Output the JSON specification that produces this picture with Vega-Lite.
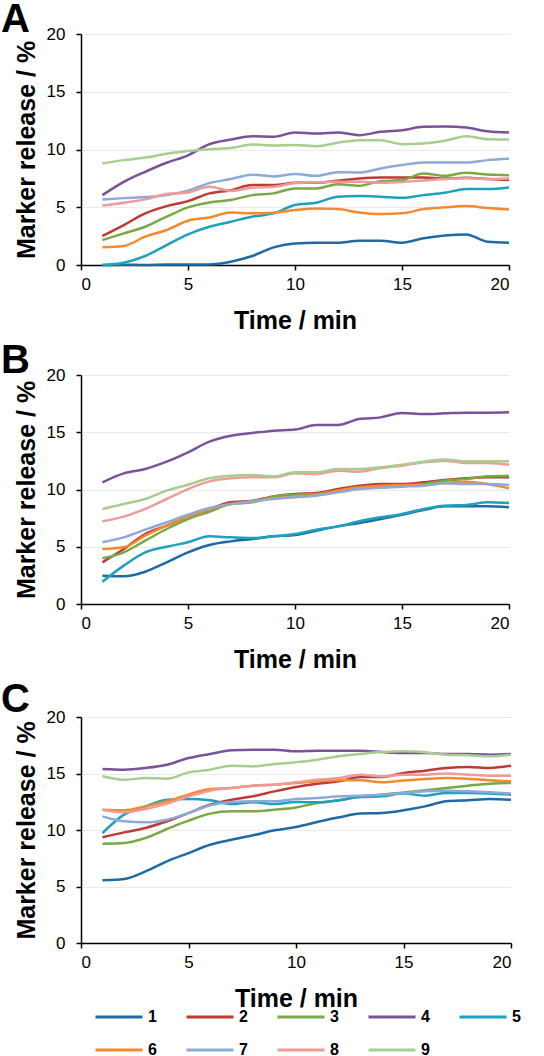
{
"$schema":"https://vega.github.io/schema/vega-lite/v6.json",
"background":"white",
"padding":{"left":1,"top":0,"right":12,"bottom":0},
"spacing":8,
"datasets":{"d":[
{"p":"A","s":"1","t":1,"v":0},{"p":"A","s":"1","t":2,"v":0.03},{"p":"A","s":"1","t":3,"v":0},{"p":"A","s":"1","t":4,"v":0.05},{"p":"A","s":"1","t":5,"v":0.05},{"p":"A","s":"1","t":6,"v":0.05},{"p":"A","s":"1","t":7,"v":0.29},{"p":"A","s":"1","t":8,"v":0.78},{"p":"A","s":"1","t":9,"v":1.53},{"p":"A","s":"1","t":10,"v":1.87},{"p":"A","s":"1","t":11,"v":1.93},{"p":"A","s":"1","t":12,"v":1.93},{"p":"A","s":"1","t":13,"v":2.1},{"p":"A","s":"1","t":14,"v":2.1},{"p":"A","s":"1","t":15,"v":1.93},{"p":"A","s":"1","t":16,"v":2.31},{"p":"A","s":"1","t":17,"v":2.56},{"p":"A","s":"1","t":18,"v":2.65},{"p":"A","s":"1","t":19,"v":2.02},{"p":"A","s":"1","t":20,"v":1.93},
{"p":"A","s":"2","t":1,"v":2.51},{"p":"A","s":"2","t":2,"v":3.46},{"p":"A","s":"2","t":3,"v":4.47},{"p":"A","s":"2","t":4,"v":5.1},{"p":"A","s":"2","t":5,"v":5.53},{"p":"A","s":"2","t":6,"v":6.2},{"p":"A","s":"2","t":7,"v":6.48},{"p":"A","s":"2","t":8,"v":6.92},{"p":"A","s":"2","t":9,"v":6.92},{"p":"A","s":"2","t":10,"v":7.12},{"p":"A","s":"2","t":11,"v":7.12},{"p":"A","s":"2","t":12,"v":7.29},{"p":"A","s":"2","t":13,"v":7.49},{"p":"A","s":"2","t":14,"v":7.58},{"p":"A","s":"2","t":15,"v":7.58},{"p":"A","s":"2","t":16,"v":7.58},{"p":"A","s":"2","t":17,"v":7.49},{"p":"A","s":"2","t":18,"v":7.55},{"p":"A","s":"2","t":19,"v":7.44},{"p":"A","s":"2","t":20,"v":7.35},
{"p":"A","s":"3","t":1,"v":2.16},{"p":"A","s":"3","t":2,"v":2.74},{"p":"A","s":"3","t":3,"v":3.31},{"p":"A","s":"3","t":4,"v":4.18},{"p":"A","s":"3","t":5,"v":4.99},{"p":"A","s":"3","t":6,"v":5.42},{"p":"A","s":"3","t":7,"v":5.62},{"p":"A","s":"3","t":8,"v":6.05},{"p":"A","s":"3","t":9,"v":6.2},{"p":"A","s":"3","t":10,"v":6.63},{"p":"A","s":"3","t":11,"v":6.63},{"p":"A","s":"3","t":12,"v":7.0},{"p":"A","s":"3","t":13,"v":6.86},{"p":"A","s":"3","t":14,"v":7.26},{"p":"A","s":"3","t":15,"v":7.35},{"p":"A","s":"3","t":16,"v":7.93},{"p":"A","s":"3","t":17,"v":7.72},{"p":"A","s":"3","t":18,"v":7.98},{"p":"A","s":"3","t":19,"v":7.84},{"p":"A","s":"3","t":20,"v":7.78},
{"p":"A","s":"4","t":1,"v":6.05},{"p":"A","s":"4","t":2,"v":7.2},{"p":"A","s":"4","t":3,"v":8.07},{"p":"A","s":"4","t":4,"v":8.85},{"p":"A","s":"4","t":5,"v":9.5},{"p":"A","s":"4","t":6,"v":10.46},{"p":"A","s":"4","t":7,"v":10.86},{"p":"A","s":"4","t":8,"v":11.15},{"p":"A","s":"4","t":9,"v":11.1},{"p":"A","s":"4","t":10,"v":11.47},{"p":"A","s":"4","t":11,"v":11.38},{"p":"A","s":"4","t":12,"v":11.47},{"p":"A","s":"4","t":13,"v":11.24},{"p":"A","s":"4","t":14,"v":11.53},{"p":"A","s":"4","t":15,"v":11.67},{"p":"A","s":"4","t":16,"v":11.96},{"p":"A","s":"4","t":17,"v":11.99},{"p":"A","s":"4","t":18,"v":11.9},{"p":"A","s":"4","t":19,"v":11.58},{"p":"A","s":"4","t":20,"v":11.47},
{"p":"A","s":"5","t":1,"v":0},{"p":"A","s":"5","t":2,"v":0.2},{"p":"A","s":"5","t":3,"v":0.78},{"p":"A","s":"5","t":4,"v":1.73},{"p":"A","s":"5","t":5,"v":2.65},{"p":"A","s":"5","t":6,"v":3.31},{"p":"A","s":"5","t":7,"v":3.75},{"p":"A","s":"5","t":8,"v":4.18},{"p":"A","s":"5","t":9,"v":4.47},{"p":"A","s":"5","t":10,"v":5.19},{"p":"A","s":"5","t":11,"v":5.39},{"p":"A","s":"5","t":12,"v":5.91},{"p":"A","s":"5","t":13,"v":5.97},{"p":"A","s":"5","t":14,"v":5.91},{"p":"A","s":"5","t":15,"v":5.82},{"p":"A","s":"5","t":16,"v":6.05},{"p":"A","s":"5","t":17,"v":6.25},{"p":"A","s":"5","t":18,"v":6.57},{"p":"A","s":"5","t":19,"v":6.57},{"p":"A","s":"5","t":20,"v":6.71},
{"p":"A","s":"6","t":1,"v":1.53},{"p":"A","s":"6","t":2,"v":1.64},{"p":"A","s":"6","t":3,"v":2.45},{"p":"A","s":"6","t":4,"v":3.03},{"p":"A","s":"6","t":5,"v":3.83},{"p":"A","s":"6","t":6,"v":4.12},{"p":"A","s":"6","t":7,"v":4.55},{"p":"A","s":"6","t":8,"v":4.47},{"p":"A","s":"6","t":9,"v":4.52},{"p":"A","s":"6","t":10,"v":4.76},{"p":"A","s":"6","t":11,"v":4.9},{"p":"A","s":"6","t":12,"v":4.84},{"p":"A","s":"6","t":13,"v":4.55},{"p":"A","s":"6","t":14,"v":4.41},{"p":"A","s":"6","t":15,"v":4.47},{"p":"A","s":"6","t":16,"v":4.84},{"p":"A","s":"6","t":17,"v":4.99},{"p":"A","s":"6","t":18,"v":5.1},{"p":"A","s":"6","t":19,"v":4.93},{"p":"A","s":"6","t":20,"v":4.81},
{"p":"A","s":"7","t":1,"v":5.68},{"p":"A","s":"7","t":2,"v":5.79},{"p":"A","s":"7","t":3,"v":5.88},{"p":"A","s":"7","t":4,"v":6.05},{"p":"A","s":"7","t":5,"v":6.43},{"p":"A","s":"7","t":6,"v":7.09},{"p":"A","s":"7","t":7,"v":7.44},{"p":"A","s":"7","t":8,"v":7.81},{"p":"A","s":"7","t":9,"v":7.67},{"p":"A","s":"7","t":10,"v":7.87},{"p":"A","s":"7","t":11,"v":7.72},{"p":"A","s":"7","t":12,"v":8.04},{"p":"A","s":"7","t":13,"v":8.01},{"p":"A","s":"7","t":14,"v":8.36},{"p":"A","s":"7","t":15,"v":8.65},{"p":"A","s":"7","t":16,"v":8.88},{"p":"A","s":"7","t":17,"v":8.88},{"p":"A","s":"7","t":18,"v":8.88},{"p":"A","s":"7","t":19,"v":9.08},{"p":"A","s":"7","t":20,"v":9.19},
{"p":"A","s":"8","t":1,"v":5.13},{"p":"A","s":"8","t":2,"v":5.39},{"p":"A","s":"8","t":3,"v":5.68},{"p":"A","s":"8","t":4,"v":6.14},{"p":"A","s":"8","t":5,"v":6.28},{"p":"A","s":"8","t":6,"v":6.77},{"p":"A","s":"8","t":7,"v":6.43},{"p":"A","s":"8","t":8,"v":6.69},{"p":"A","s":"8","t":9,"v":6.77},{"p":"A","s":"8","t":10,"v":7.09},{"p":"A","s":"8","t":11,"v":7.15},{"p":"A","s":"8","t":12,"v":7.2},{"p":"A","s":"8","t":13,"v":7.2},{"p":"A","s":"8","t":14,"v":7.12},{"p":"A","s":"8","t":15,"v":7.18},{"p":"A","s":"8","t":16,"v":7.32},{"p":"A","s":"8","t":17,"v":7.44},{"p":"A","s":"8","t":18,"v":7.52},{"p":"A","s":"8","t":19,"v":7.44},{"p":"A","s":"8","t":20,"v":7.49},
{"p":"A","s":"9","t":1,"v":8.79},{"p":"A","s":"9","t":2,"v":9.08},{"p":"A","s":"9","t":3,"v":9.3},{"p":"A","s":"9","t":4,"v":9.63},{"p":"A","s":"9","t":5,"v":9.86},{"p":"A","s":"9","t":6,"v":10.03},{"p":"A","s":"9","t":7,"v":10.12},{"p":"A","s":"9","t":8,"v":10.43},{"p":"A","s":"9","t":9,"v":10.35},{"p":"A","s":"9","t":10,"v":10.4},{"p":"A","s":"9","t":11,"v":10.29},{"p":"A","s":"9","t":12,"v":10.58},{"p":"A","s":"9","t":13,"v":10.81},{"p":"A","s":"9","t":14,"v":10.81},{"p":"A","s":"9","t":15,"v":10.46},{"p":"A","s":"9","t":16,"v":10.52},{"p":"A","s":"9","t":17,"v":10.75},{"p":"A","s":"9","t":18,"v":11.15},{"p":"A","s":"9","t":19,"v":10.89},{"p":"A","s":"9","t":20,"v":10.86},
{"p":"B","s":"1","t":1,"v":2.47},{"p":"B","s":"1","t":2,"v":2.42},{"p":"B","s":"1","t":3,"v":2.82},{"p":"B","s":"1","t":4,"v":3.64},{"p":"B","s":"1","t":5,"v":4.51},{"p":"B","s":"1","t":6,"v":5.15},{"p":"B","s":"1","t":7,"v":5.47},{"p":"B","s":"1","t":8,"v":5.68},{"p":"B","s":"1","t":9,"v":5.91},{"p":"B","s":"1","t":10,"v":6.03},{"p":"B","s":"1","t":11,"v":6.4},{"p":"B","s":"1","t":12,"v":6.78},{"p":"B","s":"1","t":13,"v":7.07},{"p":"B","s":"1","t":14,"v":7.42},{"p":"B","s":"1","t":15,"v":7.8},{"p":"B","s":"1","t":16,"v":8.21},{"p":"B","s":"1","t":17,"v":8.53},{"p":"B","s":"1","t":18,"v":8.53},{"p":"B","s":"1","t":19,"v":8.53},{"p":"B","s":"1","t":20,"v":8.44},
{"p":"B","s":"2","t":1,"v":3.64},{"p":"B","s":"2","t":2,"v":4.8},{"p":"B","s":"2","t":3,"v":6.11},{"p":"B","s":"2","t":4,"v":6.84},{"p":"B","s":"2","t":5,"v":7.63},{"p":"B","s":"2","t":6,"v":8.3},{"p":"B","s":"2","t":7,"v":8.88},{"p":"B","s":"2","t":8,"v":9.02},{"p":"B","s":"2","t":9,"v":9.4},{"p":"B","s":"2","t":10,"v":9.61},{"p":"B","s":"2","t":11,"v":9.69},{"p":"B","s":"2","t":12,"v":10.04},{"p":"B","s":"2","t":13,"v":10.33},{"p":"B","s":"2","t":14,"v":10.48},{"p":"B","s":"2","t":15,"v":10.48},{"p":"B","s":"2","t":16,"v":10.63},{"p":"B","s":"2","t":17,"v":10.83},{"p":"B","s":"2","t":18,"v":10.98},{"p":"B","s":"2","t":19,"v":11.06},{"p":"B","s":"2","t":20,"v":11.06},
{"p":"B","s":"3","t":1,"v":3.99},{"p":"B","s":"3","t":2,"v":4.51},{"p":"B","s":"3","t":3,"v":5.53},{"p":"B","s":"3","t":4,"v":6.55},{"p":"B","s":"3","t":5,"v":7.42},{"p":"B","s":"3","t":6,"v":8.06},{"p":"B","s":"3","t":7,"v":8.73},{"p":"B","s":"3","t":8,"v":8.88},{"p":"B","s":"3","t":9,"v":9.37},{"p":"B","s":"3","t":10,"v":9.55},{"p":"B","s":"3","t":11,"v":9.61},{"p":"B","s":"3","t":12,"v":9.9},{"p":"B","s":"3","t":13,"v":10.1},{"p":"B","s":"3","t":14,"v":10.19},{"p":"B","s":"3","t":15,"v":10.33},{"p":"B","s":"3","t":16,"v":10.48},{"p":"B","s":"3","t":17,"v":10.77},{"p":"B","s":"3","t":18,"v":10.92},{"p":"B","s":"3","t":19,"v":11.15},{"p":"B","s":"3","t":20,"v":11.21},
{"p":"B","s":"4","t":1,"v":10.63},{"p":"B","s":"4","t":2,"v":11.41},{"p":"B","s":"4","t":3,"v":11.79},{"p":"B","s":"4","t":4,"v":12.43},{"p":"B","s":"4","t":5,"v":13.25},{"p":"B","s":"4","t":6,"v":14.18},{"p":"B","s":"4","t":7,"v":14.7},{"p":"B","s":"4","t":8,"v":14.93},{"p":"B","s":"4","t":9,"v":15.14},{"p":"B","s":"4","t":10,"v":15.23},{"p":"B","s":"4","t":11,"v":15.63},{"p":"B","s":"4","t":12,"v":15.63},{"p":"B","s":"4","t":13,"v":16.16},{"p":"B","s":"4","t":14,"v":16.3},{"p":"B","s":"4","t":15,"v":16.68},{"p":"B","s":"4","t":16,"v":16.59},{"p":"B","s":"4","t":17,"v":16.65},{"p":"B","s":"4","t":18,"v":16.71},{"p":"B","s":"4","t":19,"v":16.71},{"p":"B","s":"4","t":20,"v":16.74},
{"p":"B","s":"5","t":1,"v":1.95},{"p":"B","s":"5","t":2,"v":3.35},{"p":"B","s":"5","t":3,"v":4.51},{"p":"B","s":"5","t":4,"v":5.0},{"p":"B","s":"5","t":5,"v":5.39},{"p":"B","s":"5","t":6,"v":5.91},{"p":"B","s":"5","t":7,"v":5.82},{"p":"B","s":"5","t":8,"v":5.76},{"p":"B","s":"5","t":9,"v":5.91},{"p":"B","s":"5","t":10,"v":6.11},{"p":"B","s":"5","t":11,"v":6.49},{"p":"B","s":"5","t":12,"v":6.78},{"p":"B","s":"5","t":13,"v":7.22},{"p":"B","s":"5","t":14,"v":7.57},{"p":"B","s":"5","t":15,"v":7.86},{"p":"B","s":"5","t":16,"v":8.3},{"p":"B","s":"5","t":17,"v":8.59},{"p":"B","s":"5","t":18,"v":8.65},{"p":"B","s":"5","t":19,"v":8.88},{"p":"B","s":"5","t":20,"v":8.82},
{"p":"B","s":"6","t":1,"v":4.8},{"p":"B","s":"6","t":2,"v":4.95},{"p":"B","s":"6","t":3,"v":5.97},{"p":"B","s":"6","t":4,"v":6.84},{"p":"B","s":"6","t":5,"v":7.63},{"p":"B","s":"6","t":6,"v":8.3},{"p":"B","s":"6","t":7,"v":8.73},{"p":"B","s":"6","t":8,"v":8.97},{"p":"B","s":"6","t":9,"v":9.23},{"p":"B","s":"6","t":10,"v":9.32},{"p":"B","s":"6","t":11,"v":9.52},{"p":"B","s":"6","t":12,"v":9.9},{"p":"B","s":"6","t":13,"v":10.19},{"p":"B","s":"6","t":14,"v":10.33},{"p":"B","s":"6","t":15,"v":10.39},{"p":"B","s":"6","t":16,"v":10.39},{"p":"B","s":"6","t":17,"v":10.57},{"p":"B","s":"6","t":18,"v":10.68},{"p":"B","s":"6","t":19,"v":10.48},{"p":"B","s":"6","t":20,"v":10.1},
{"p":"B","s":"7","t":1,"v":5.39},{"p":"B","s":"7","t":2,"v":5.82},{"p":"B","s":"7","t":3,"v":6.49},{"p":"B","s":"7","t":4,"v":7.13},{"p":"B","s":"7","t":5,"v":7.8},{"p":"B","s":"7","t":6,"v":8.38},{"p":"B","s":"7","t":7,"v":8.73},{"p":"B","s":"7","t":8,"v":8.97},{"p":"B","s":"7","t":9,"v":9.17},{"p":"B","s":"7","t":10,"v":9.37},{"p":"B","s":"7","t":11,"v":9.46},{"p":"B","s":"7","t":12,"v":9.75},{"p":"B","s":"7","t":13,"v":10.04},{"p":"B","s":"7","t":14,"v":10.16},{"p":"B","s":"7","t":15,"v":10.25},{"p":"B","s":"7","t":16,"v":10.33},{"p":"B","s":"7","t":17,"v":10.54},{"p":"B","s":"7","t":18,"v":10.48},{"p":"B","s":"7","t":19,"v":10.48},{"p":"B","s":"7","t":20,"v":10.39},
{"p":"B","s":"8","t":1,"v":7.22},{"p":"B","s":"8","t":2,"v":7.63},{"p":"B","s":"8","t":3,"v":8.3},{"p":"B","s":"8","t":4,"v":9.17},{"p":"B","s":"8","t":5,"v":10.04},{"p":"B","s":"8","t":6,"v":10.71},{"p":"B","s":"8","t":7,"v":10.98},{"p":"B","s":"8","t":8,"v":11.06},{"p":"B","s":"8","t":9,"v":11.06},{"p":"B","s":"8","t":10,"v":11.41},{"p":"B","s":"8","t":11,"v":11.35},{"p":"B","s":"8","t":12,"v":11.64},{"p":"B","s":"8","t":13,"v":11.56},{"p":"B","s":"8","t":14,"v":11.88},{"p":"B","s":"8","t":15,"v":12.08},{"p":"B","s":"8","t":16,"v":12.37},{"p":"B","s":"8","t":17,"v":12.52},{"p":"B","s":"8","t":18,"v":12.31},{"p":"B","s":"8","t":19,"v":12.31},{"p":"B","s":"8","t":20,"v":12.17},
{"p":"B","s":"9","t":1,"v":8.3},{"p":"B","s":"9","t":2,"v":8.73},{"p":"B","s":"9","t":3,"v":9.17},{"p":"B","s":"9","t":4,"v":9.9},{"p":"B","s":"9","t":5,"v":10.42},{"p":"B","s":"9","t":6,"v":10.98},{"p":"B","s":"9","t":7,"v":11.21},{"p":"B","s":"9","t":8,"v":11.27},{"p":"B","s":"9","t":9,"v":11.15},{"p":"B","s":"9","t":10,"v":11.5},{"p":"B","s":"9","t":11,"v":11.5},{"p":"B","s":"9","t":12,"v":11.79},{"p":"B","s":"9","t":13,"v":11.79},{"p":"B","s":"9","t":14,"v":11.94},{"p":"B","s":"9","t":15,"v":12.17},{"p":"B","s":"9","t":16,"v":12.43},{"p":"B","s":"9","t":17,"v":12.61},{"p":"B","s":"9","t":18,"v":12.46},{"p":"B","s":"9","t":19,"v":12.46},{"p":"B","s":"9","t":20,"v":12.46},
{"p":"C","s":"1","t":1,"v":5.55},{"p":"C","s":"1","t":2,"v":5.66},{"p":"C","s":"1","t":3,"v":6.34},{"p":"C","s":"1","t":4,"v":7.23},{"p":"C","s":"1","t":5,"v":7.96},{"p":"C","s":"1","t":6,"v":8.7},{"p":"C","s":"1","t":7,"v":9.14},{"p":"C","s":"1","t":8,"v":9.53},{"p":"C","s":"1","t":9,"v":9.97},{"p":"C","s":"1","t":10,"v":10.27},{"p":"C","s":"1","t":11,"v":10.71},{"p":"C","s":"1","t":12,"v":11.12},{"p":"C","s":"1","t":13,"v":11.45},{"p":"C","s":"1","t":14,"v":11.5},{"p":"C","s":"1","t":15,"v":11.74},{"p":"C","s":"1","t":16,"v":12.09},{"p":"C","s":"1","t":17,"v":12.54},{"p":"C","s":"1","t":18,"v":12.63},{"p":"C","s":"1","t":19,"v":12.74},{"p":"C","s":"1","t":20,"v":12.68},
{"p":"C","s":"2","t":1,"v":9.35},{"p":"C","s":"2","t":2,"v":9.79},{"p":"C","s":"2","t":3,"v":10.18},{"p":"C","s":"2","t":4,"v":10.77},{"p":"C","s":"2","t":5,"v":11.5},{"p":"C","s":"2","t":6,"v":12.24},{"p":"C","s":"2","t":7,"v":12.68},{"p":"C","s":"2","t":8,"v":12.98},{"p":"C","s":"2","t":9,"v":13.42},{"p":"C","s":"2","t":10,"v":13.81},{"p":"C","s":"2","t":11,"v":14.1},{"p":"C","s":"2","t":12,"v":14.31},{"p":"C","s":"2","t":13,"v":14.69},{"p":"C","s":"2","t":14,"v":14.69},{"p":"C","s":"2","t":15,"v":15.04},{"p":"C","s":"2","t":16,"v":15.25},{"p":"C","s":"2","t":17,"v":15.49},{"p":"C","s":"2","t":18,"v":15.58},{"p":"C","s":"2","t":19,"v":15.49},{"p":"C","s":"2","t":20,"v":15.69},
{"p":"C","s":"3","t":1,"v":8.79},{"p":"C","s":"3","t":2,"v":8.85},{"p":"C","s":"3","t":3,"v":9.29},{"p":"C","s":"3","t":4,"v":10.09},{"p":"C","s":"3","t":5,"v":10.83},{"p":"C","s":"3","t":6,"v":11.45},{"p":"C","s":"3","t":7,"v":11.65},{"p":"C","s":"3","t":8,"v":11.65},{"p":"C","s":"3","t":9,"v":11.8},{"p":"C","s":"3","t":10,"v":12.0},{"p":"C","s":"3","t":11,"v":12.39},{"p":"C","s":"3","t":12,"v":12.63},{"p":"C","s":"3","t":13,"v":12.98},{"p":"C","s":"3","t":14,"v":13.13},{"p":"C","s":"3","t":15,"v":13.33},{"p":"C","s":"3","t":16,"v":13.51},{"p":"C","s":"3","t":17,"v":13.72},{"p":"C","s":"3","t":18,"v":13.92},{"p":"C","s":"3","t":19,"v":14.1},{"p":"C","s":"3","t":20,"v":14.16},
{"p":"C","s":"4","t":1,"v":15.4},{"p":"C","s":"4","t":2,"v":15.34},{"p":"C","s":"4","t":3,"v":15.49},{"p":"C","s":"4","t":4,"v":15.78},{"p":"C","s":"4","t":5,"v":16.37},{"p":"C","s":"4","t":6,"v":16.73},{"p":"C","s":"4","t":7,"v":17.05},{"p":"C","s":"4","t":8,"v":17.11},{"p":"C","s":"4","t":9,"v":17.11},{"p":"C","s":"4","t":10,"v":16.96},{"p":"C","s":"4","t":11,"v":17.02},{"p":"C","s":"4","t":12,"v":17.02},{"p":"C","s":"4","t":13,"v":17.02},{"p":"C","s":"4","t":14,"v":16.9},{"p":"C","s":"4","t":15,"v":16.81},{"p":"C","s":"4","t":16,"v":16.81},{"p":"C","s":"4","t":17,"v":16.73},{"p":"C","s":"4","t":18,"v":16.73},{"p":"C","s":"4","t":19,"v":16.67},{"p":"C","s":"4","t":20,"v":16.73},
{"p":"C","s":"5","t":1,"v":9.73},{"p":"C","s":"5","t":2,"v":11.36},{"p":"C","s":"5","t":3,"v":12.09},{"p":"C","s":"5","t":4,"v":12.68},{"p":"C","s":"5","t":5,"v":12.74},{"p":"C","s":"5","t":6,"v":12.63},{"p":"C","s":"5","t":7,"v":12.3},{"p":"C","s":"5","t":8,"v":12.45},{"p":"C","s":"5","t":9,"v":12.3},{"p":"C","s":"5","t":10,"v":12.48},{"p":"C","s":"5","t":11,"v":12.45},{"p":"C","s":"5","t":12,"v":12.63},{"p":"C","s":"5","t":13,"v":12.92},{"p":"C","s":"5","t":14,"v":12.98},{"p":"C","s":"5","t":15,"v":13.22},{"p":"C","s":"5","t":16,"v":13.04},{"p":"C","s":"5","t":17,"v":13.27},{"p":"C","s":"5","t":18,"v":13.27},{"p":"C","s":"5","t":19,"v":13.22},{"p":"C","s":"5","t":20,"v":13.13},
{"p":"C","s":"6","t":1,"v":11.8},{"p":"C","s":"6","t":2,"v":11.74},{"p":"C","s":"6","t":3,"v":12.09},{"p":"C","s":"6","t":4,"v":12.54},{"p":"C","s":"6","t":5,"v":13.13},{"p":"C","s":"6","t":6,"v":13.63},{"p":"C","s":"6","t":7,"v":13.72},{"p":"C","s":"6","t":8,"v":13.92},{"p":"C","s":"6","t":9,"v":14.01},{"p":"C","s":"6","t":10,"v":14.16},{"p":"C","s":"6","t":11,"v":14.31},{"p":"C","s":"6","t":12,"v":14.4},{"p":"C","s":"6","t":13,"v":14.4},{"p":"C","s":"6","t":14,"v":14.22},{"p":"C","s":"6","t":15,"v":14.37},{"p":"C","s":"6","t":16,"v":14.51},{"p":"C","s":"6","t":17,"v":14.6},{"p":"C","s":"6","t":18,"v":14.54},{"p":"C","s":"6","t":19,"v":14.4},{"p":"C","s":"6","t":20,"v":14.31},
{"p":"C","s":"7","t":1,"v":11.21},{"p":"C","s":"7","t":2,"v":10.77},{"p":"C","s":"7","t":3,"v":10.68},{"p":"C","s":"7","t":4,"v":10.91},{"p":"C","s":"7","t":5,"v":11.5},{"p":"C","s":"7","t":6,"v":12.18},{"p":"C","s":"7","t":7,"v":12.48},{"p":"C","s":"7","t":8,"v":12.54},{"p":"C","s":"7","t":9,"v":12.54},{"p":"C","s":"7","t":10,"v":12.74},{"p":"C","s":"7","t":11,"v":12.83},{"p":"C","s":"7","t":12,"v":12.98},{"p":"C","s":"7","t":13,"v":13.04},{"p":"C","s":"7","t":14,"v":13.13},{"p":"C","s":"7","t":15,"v":13.27},{"p":"C","s":"7","t":16,"v":13.42},{"p":"C","s":"7","t":17,"v":13.48},{"p":"C","s":"7","t":18,"v":13.42},{"p":"C","s":"7","t":19,"v":13.33},{"p":"C","s":"7","t":20,"v":13.22},
{"p":"C","s":"8","t":1,"v":11.8},{"p":"C","s":"8","t":2,"v":11.56},{"p":"C","s":"8","t":3,"v":11.86},{"p":"C","s":"8","t":4,"v":12.33},{"p":"C","s":"8","t":5,"v":12.98},{"p":"C","s":"8","t":6,"v":13.48},{"p":"C","s":"8","t":7,"v":13.72},{"p":"C","s":"8","t":8,"v":13.92},{"p":"C","s":"8","t":9,"v":14.01},{"p":"C","s":"8","t":10,"v":14.22},{"p":"C","s":"8","t":11,"v":14.45},{"p":"C","s":"8","t":12,"v":14.6},{"p":"C","s":"8","t":13,"v":14.9},{"p":"C","s":"8","t":14,"v":14.75},{"p":"C","s":"8","t":15,"v":14.9},{"p":"C","s":"8","t":16,"v":14.9},{"p":"C","s":"8","t":17,"v":14.99},{"p":"C","s":"8","t":18,"v":14.9},{"p":"C","s":"8","t":19,"v":14.81},{"p":"C","s":"8","t":20,"v":14.81},
{"p":"C","s":"9","t":1,"v":14.75},{"p":"C","s":"9","t":2,"v":14.45},{"p":"C","s":"9","t":3,"v":14.6},{"p":"C","s":"9","t":4,"v":14.54},{"p":"C","s":"9","t":5,"v":15.1},{"p":"C","s":"9","t":6,"v":15.34},{"p":"C","s":"9","t":7,"v":15.69},{"p":"C","s":"9","t":8,"v":15.63},{"p":"C","s":"9","t":9,"v":15.84},{"p":"C","s":"9","t":10,"v":15.99},{"p":"C","s":"9","t":11,"v":16.22},{"p":"C","s":"9","t":12,"v":16.52},{"p":"C","s":"9","t":13,"v":16.73},{"p":"C","s":"9","t":14,"v":16.9},{"p":"C","s":"9","t":15,"v":16.96},{"p":"C","s":"9","t":16,"v":16.87},{"p":"C","s":"9","t":17,"v":16.67},{"p":"C","s":"9","t":18,"v":16.61},{"p":"C","s":"9","t":19,"v":16.52},{"p":"C","s":"9","t":20,"v":16.67}
]},
"data":{"name":"d"},
"config":{
 "view":{"stroke":null},
 "font":"Liberation Sans",
 "title":{"fontSize":40,"font":"Liberation Sans","fontWeight":"bold","anchor":"start","frame":"bounds","offset":-15,"dx":-13,"color":"black"},
 "axis":{"labelFont":"Liberation Sans","labelFontSize":17,"labelColor":"black","titleFont":"Liberation Sans","titleFontSize":25,"titleFontWeight":"bold","titleColor":"black","domainColor":"black","domainWidth":1.5,"tickColor":"black","tickWidth":1.5,"tickSize":5},
 "axisX":{"grid":false,"titlePadding":16,"labelPadding":6},
 "axisY":{"grid":true,"gridColor":"#ebebeb","gridWidth":1.2,"titlePadding":7,"labelPadding":11},
 "legend":{"labelFont":"Liberation Sans","labelFontSize":16,"labelFontWeight":"bold","labelColor":"black"}
},
"resolve":{"scale":{"color":"shared"}},
"vconcat":[
 {"title":{"text":"A"},"width":428,"height":231,
  "transform":[{"filter":"datum.p == 'A'"}],
  "mark":{"type":"line","interpolate":"monotone","strokeWidth":2.5},
  "encoding":{
   "x":{"field":"t","type":"quantitative","scale":{"domain":[0,20]},"axis":{"values":[0,5,10,15,20],"title":"Time / min"}},
   "y":{"field":"v","type":"quantitative","scale":{"domain":[0,20]},"axis":{"values":[0,5,10,15,20],"title":"Marker release / %"}},
   "color":{"field":"s","type":"nominal","scale":{"domain":["1","2","3","4","5","6","7","8","9"],"range":["#1F6AA5","#BE3A34","#78A942","#7A529A","#1DA2BE","#F28A30","#8DA9D9","#EE9A98","#A8CD8E"]},
     "legend":{"orient":"none","legendX":13,"legendY":958,"direction":"horizontal","columns":5,"title":null,"symbolType":"stroke","symbolSize":2209,"symbolStrokeWidth":3,"columnPadding":23,"rowPadding":0,"labelOffset":4}}
  }},
 {"title":{"text":"B"},"width":428,"height":229,
  "transform":[{"filter":"datum.p == 'B'"}],
  "mark":{"type":"line","interpolate":"monotone","strokeWidth":2.5},
  "encoding":{
   "x":{"field":"t","type":"quantitative","scale":{"domain":[0,20]},"axis":{"values":[0,5,10,15,20],"title":"Time / min"}},
   "y":{"field":"v","type":"quantitative","scale":{"domain":[0,20]},"axis":{"values":[0,5,10,15,20],"title":"Marker release / %"}},
   "color":{"field":"s","type":"nominal"}
  }},
 {"title":{"text":"C","offset":-12},"width":430,"height":226,
  "transform":[{"filter":"datum.p == 'C'"}],
  "mark":{"type":"line","interpolate":"monotone","strokeWidth":2.5},
  "encoding":{
   "x":{"field":"t","type":"quantitative","scale":{"domain":[0,20]},"axis":{"values":[0,5,10,15,20],"title":"Time / min"}},
   "y":{"field":"v","type":"quantitative","scale":{"domain":[0,20]},"axis":{"values":[0,5,10,15,20],"title":"Marker release / %"}},
   "color":{"field":"s","type":"nominal"}
  }}
]
}
